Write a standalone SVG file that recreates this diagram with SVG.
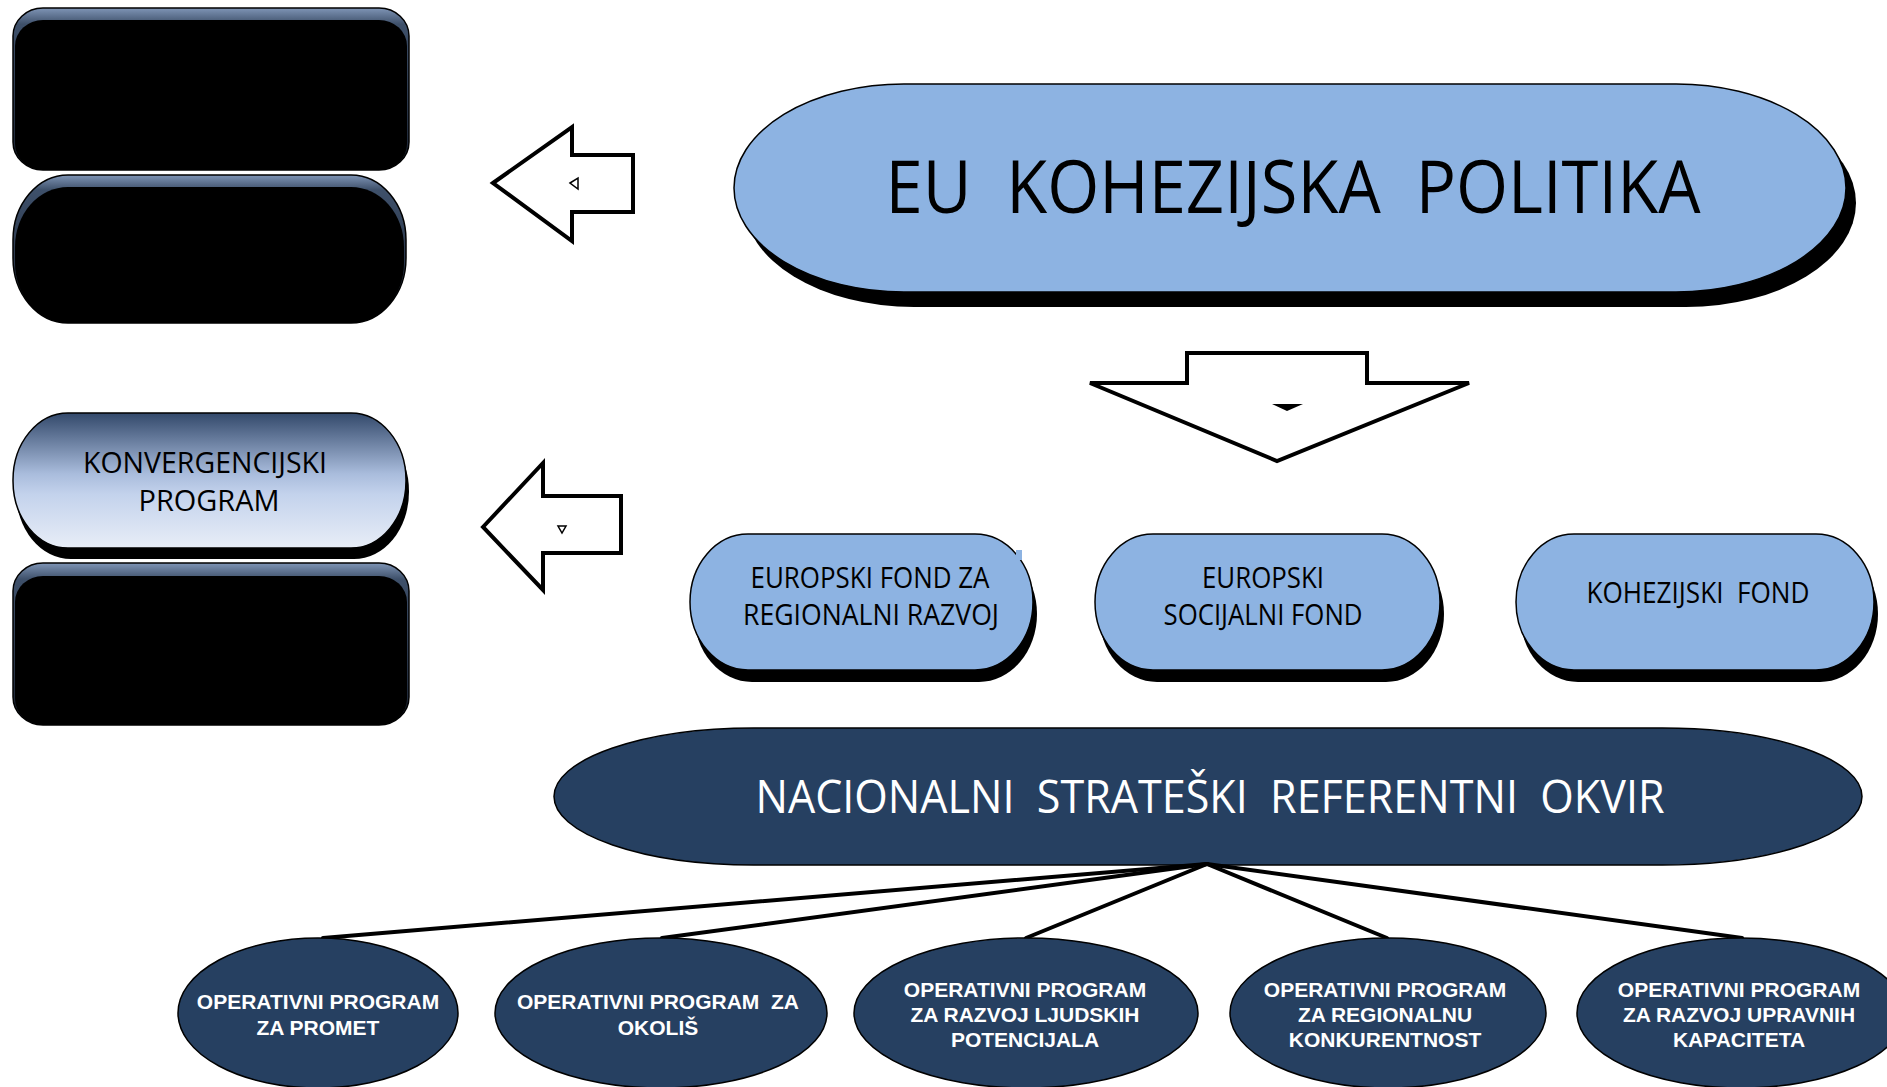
<svg xmlns="http://www.w3.org/2000/svg" width="1887" height="1087" viewBox="0 0 1887 1087">
<defs>
  <linearGradient id="gloss" x1="0" y1="0" x2="0" y2="1">
    <stop offset="0" stop-color="#7f95b6"/>
    <stop offset="0.1" stop-color="#3e506a"/>
    <stop offset="1" stop-color="#1a2230"/>
  </linearGradient>
  <linearGradient id="konv" x1="0" y1="0" x2="0" y2="1">
    <stop offset="0" stop-color="#33496b"/>
    <stop offset="0.45" stop-color="#a9bcdc"/>
    <stop offset="0.6" stop-color="#c3d2ec"/>
    <stop offset="1" stop-color="#e8edf7"/>
  </linearGradient>
</defs>
<style>
  .shadow{fill:#000}
  .blue{fill:#8db3e2;stroke:#000;stroke-width:1.5}
  .navy{fill:#264061;stroke:#000;stroke-width:1.5}
  .glossout{fill:url(#gloss);stroke:#000;stroke-width:1.5}
  .glossin{fill:#000}
  .arrow{fill:#fff;stroke:#000;stroke-width:4;stroke-linejoin:miter}
  .cond{font-family:"Open Sans","Noto Sans",sans-serif;text-anchor:middle;fill:#000}
  .op{font-family:"Liberation Sans",Arial,sans-serif;font-weight:bold;font-size:21px;fill:#fff;text-anchor:middle}
  .conn{stroke:#000;stroke-width:4;fill:none;stroke-linecap:round}
</style>

<g id="box-a">
  <rect class="glossout" x="13" y="8" width="396" height="162" rx="30" ry="28"/>
  <rect class="glossin" x="15" y="20" width="392" height="150" rx="28" ry="26"/>
</g>
<g id="box-b">
  <rect class="glossout" x="13" y="175" width="393" height="148" rx="55" ry="65"/>
  <rect class="glossin" x="15" y="187" width="389" height="136" rx="53" ry="60"/>
</g>
<g id="box-c">
  <rect class="glossout" x="13" y="563" width="396" height="162" rx="30" ry="28"/>
  <rect class="glossin" x="15" y="576" width="392" height="149" rx="28" ry="26"/>
</g>

<g id="konv">
  <rect class="shadow" x="16" y="424" width="393" height="135" rx="55" ry="67"/>
  <rect x="13" y="413" width="393" height="135" rx="55" ry="67" fill="url(#konv)" stroke="#000" stroke-width="1.5"/>
  <text class="cond" x="205" y="473" font-size="30" textLength="244" lengthAdjust="spacingAndGlyphs">KONVERGENCIJSKI</text>
  <text class="cond" x="209" y="511" font-size="30" textLength="141" lengthAdjust="spacingAndGlyphs">PROGRAM</text>
</g>

<g id="arrow-left-1">
  <polygon class="arrow" points="493,183 572,127 572,155 633,155 633,212 572,212 572,241"/>
  <polygon points="570,183 578,178 578,189" fill="#fff" stroke="#000" stroke-width="1.5"/>
</g>
<g id="arrow-left-2">
  <polygon class="arrow" points="483,527 543,463 543,496 621,496 621,553 543,553 543,590"/>
  <polygon points="558,526 566,526 562,533" fill="#fff" stroke="#000" stroke-width="1.5"/>
</g>
<g id="arrow-down">
  <polygon class="arrow" points="1187,353 1367,353 1367,383 1469,383 1277,461 1090,383 1187,383"/>
  <polygon points="1272,404 1303,404 1287,411" fill="#000"/>
</g>

<g id="eu-kohezijska">
  <rect class="shadow" x="744" y="99" width="1112" height="208" rx="170" ry="104"/>
  <rect class="blue" x="734" y="84" width="1112" height="208" rx="170" ry="104"/>
  <text class="cond" x="1293" y="213" font-size="74" textLength="815" lengthAdjust="spacingAndGlyphs" xml:space="preserve">EU  KOHEZIJSKA  POLITIKA</text>
</g>

<g id="efrr">
  <rect class="shadow" x="694" y="546" width="343" height="136" rx="58" ry="68"/>
  <rect class="blue" x="690" y="534" width="343" height="136" rx="58" ry="68"/>
  <rect x="1016" y="550" width="6" height="10" fill="#8db3e2"/>
  <text class="cond" x="870" y="588" font-size="29" textLength="239" lengthAdjust="spacingAndGlyphs">EUROPSKI FOND ZA</text>
  <text class="cond" x="871" y="625" font-size="29" textLength="256" lengthAdjust="spacingAndGlyphs">REGIONALNI RAZVOJ</text>
</g>
<g id="esf">
  <rect class="shadow" x="1099" y="546" width="345" height="136" rx="58" ry="68"/>
  <rect class="blue" x="1095" y="534" width="345" height="136" rx="58" ry="68"/>
  <text class="cond" x="1263" y="588" font-size="29" textLength="122" lengthAdjust="spacingAndGlyphs">EUROPSKI</text>
  <text class="cond" x="1263" y="625" font-size="29" textLength="199" lengthAdjust="spacingAndGlyphs">SOCIJALNI FOND</text>
</g>
<g id="kf">
  <rect class="shadow" x="1520" y="546" width="358" height="136" rx="58" ry="68"/>
  <rect class="blue" x="1516" y="534" width="358" height="136" rx="58" ry="68"/>
  <text class="cond" x="1698" y="603" font-size="29" textLength="223" lengthAdjust="spacingAndGlyphs" xml:space="preserve">KOHEZIJSKI  FOND</text>
</g>

<g id="nsro">
  <rect class="navy" x="554" y="728" width="1308" height="137" rx="200" ry="68.5"/>
  <text class="cond" x="1210" y="813" font-size="46" fill="#fff" style="fill:#fff" textLength="909" lengthAdjust="spacingAndGlyphs" xml:space="preserve">NACIONALNI  STRATEŠKI  REFERENTNI  OKVIR</text>
</g>

<g id="connectors">
  <line class="conn" x1="1207" y1="864" x2="323" y2="938"/>
  <line class="conn" x1="1207" y1="864" x2="662" y2="938"/>
  <line class="conn" x1="1207" y1="864" x2="1026" y2="938"/>
  <line class="conn" x1="1207" y1="864" x2="1387" y2="938"/>
  <line class="conn" x1="1207" y1="864" x2="1742" y2="938"/>
</g>

<g id="op-promet">
  <ellipse class="navy" cx="318" cy="1013" rx="140" ry="75"/>
  <text class="op" x="318" y="1009">OPERATIVNI PROGRAM</text>
  <text class="op" x="318" y="1035">ZA PROMET</text>
</g>
<g id="op-okolis">
  <ellipse class="navy" cx="661" cy="1013" rx="166" ry="75"/>
  <text class="op" x="658" y="1009" xml:space="preserve">OPERATIVNI PROGRAM  ZA</text>
  <text class="op" x="658" y="1035">OKOLIŠ</text>
</g>
<g id="op-ljudski">
  <ellipse class="navy" cx="1026" cy="1013" rx="172" ry="75"/>
  <text class="op" x="1025" y="997">OPERATIVNI PROGRAM</text>
  <text class="op" x="1025" y="1022">ZA RAZVOJ LJUDSKIH</text>
  <text class="op" x="1025" y="1047">POTENCIJALA</text>
</g>
<g id="op-regionalna">
  <ellipse class="navy" cx="1388" cy="1013" rx="158" ry="75"/>
  <text class="op" x="1385" y="997">OPERATIVNI PROGRAM</text>
  <text class="op" x="1385" y="1022">ZA REGIONALNU</text>
  <text class="op" x="1385" y="1047">KONKURENTNOST</text>
</g>
<g id="op-upravni">
  <ellipse class="navy" cx="1741" cy="1013" rx="164" ry="75"/>
  <text class="op" x="1739" y="997">OPERATIVNI PROGRAM</text>
  <text class="op" x="1739" y="1022">ZA RAZVOJ UPRAVNIH</text>
  <text class="op" x="1739" y="1047">KAPACITETA</text>
</g>
</svg>
